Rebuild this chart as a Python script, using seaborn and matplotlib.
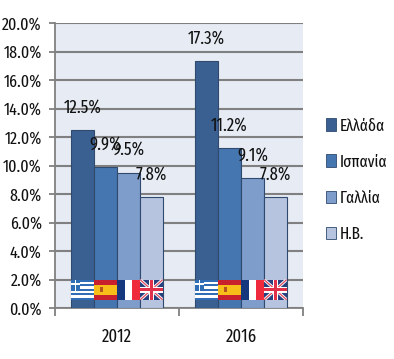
import pandas as pd
import matplotlib
matplotlib.use("Agg")
import matplotlib.pyplot as plt
import matplotlib.patches as mpatches
from matplotlib.transforms import Affine2D
import seaborn as sns

years = ["2012", "2016"]
countries = ["Ελλάδα", "Ισπανία", "Γαλλία", "Η.Β."]
greece = [12.5, 17.3]
spain = [9.9, 11.2]
france = [9.5, 9.1]
uk = [7.8, 7.8]
colors = ["#3A6091", "#4676B0", "#7F9DCB", "#B7C4DF"]
y_ticks = [0, 2, 4, 6, 8, 10, 12, 14, 16, 18, 20]

df = pd.DataFrame({
    "Year": years * 4,
    "Country": [c for c in countries for _ in years],
    "Value": greece + spain + france + uk,
})

sns.set_theme(style="white")
plt.rcParams["font.family"] = ["Fira Sans Extra Condensed", "Liberation Sans", "DejaVu Sans"]
plt.rcParams["axes.unicode_minus"] = False

fig = plt.figure(figsize=(3.94, 3.59), dpi=100)
ax = fig.add_axes([55 / 394, 1 - 308 / 359, 248 / 394, 285 / 359])
ax.set_facecolor("#E6EBF4")

sns.barplot(data=df, x="Year", y="Value", hue="Country", palette=colors,
            width=0.74, gap=0, saturation=1, edgecolor="#2F4A6E", linewidth=0.8,
            ax=ax, zorder=3)
ax.set_xlim(-0.5, 1.5)
ax.set_ylim(0, 20)


def draw_flag(name, x, w, y0=0.56, h=1.44):
    # unit square -> data coords
    tr = Affine2D().scale(w, h).translate(x, y0) + ax.transData

    def rect(a, b, c, d, col):
        ax.add_patch(mpatches.Rectangle((a, b), c, d, color=col, lw=0, transform=tr, zorder=5))

    def poly(pts, col):
        ax.add_patch(mpatches.Polygon(pts, closed=True, color=col, lw=0, transform=tr, zorder=5))

    if name == "gr":
        blue = "#2F6DB5"
        for i in range(9):
            rect(0, i / 9, 1, 1 / 9, blue if i % 2 == 0 else "white")
        rect(0, 4 / 9, 0.38, 5 / 9, blue)
        rect(0.15, 4 / 9, 0.08, 5 / 9, "white")
        rect(0, 6.5 / 9, 0.38, 0.9 / 9, "white")
    elif name == "es":
        rect(0, 0, 1, 1, "#C8202C")
        rect(0, 0.25, 1, 0.5, "#F7BE1A")
        rect(0.27, 0.38, 0.14, 0.26, "#B5541E")
    elif name == "fr":
        rect(0, 0, 1 / 3, 1, "#14377D")
        rect(1 / 3, 0, 1 / 3, 1, "white")
        rect(2 / 3, 0, 1 / 3, 1, "#EE2A3C")
    else:
        rect(0, 0, 1, 1, "#27407F")
        d = 0.1
        for pts in ([(0, d), (0, 0), (d, 0), (1, 1 - d), (1, 1), (1 - d, 1)],
                    [(0, 1 - d), (0, 1), (d, 1), (1, d), (1, 0), (1 - d, 0)]):
            poly(pts, "white")
        d = 0.04
        for pts in ([(0, d), (0, 0), (d, 0), (1, 1 - d), (1, 1), (1 - d, 1)],
                    [(0, 1 - d), (0, 1), (d, 1), (1, d), (1, 0), (1 - d, 0)]):
            poly(pts, "#E0475A")
        rect(0.38, 0, 0.24, 1, "white")
        rect(0, 0.36, 1, 0.28, "white")
        rect(0.44, 0, 0.12, 1, "#E0304A")
        rect(0, 0.43, 1, 0.14, "#E0304A")


flags = ["gr", "es", "fr", "uk"]
for container, flag in zip(ax.containers, flags):
    ax.bar_label(container, labels=[f"{v:.1f}%" for v in container.datavalues],
                 padding=10, fontsize=13, color="#111111", zorder=6)
    for bar in container:
        draw_flag(flag, bar.get_x(), bar.get_width())

ax.set_yticks(y_ticks)
ax.set_yticklabels([f"{v:.1f}%" for v in y_ticks], fontsize=12.5, color="#111111")
ax.set_xticks([-0.5, 0.5, 1.5], labels=[])
ax.set_xticks([0, 1], labels=years, minor=True, fontsize=13, color="#111111")
ax.tick_params(axis="x", which="major", length=6, width=1.3, color="#808080", bottom=True)
ax.tick_params(axis="x", which="minor", length=0, pad=14.5)
ax.tick_params(axis="y", length=4, width=1.3, color="#808080", left=True, pad=5.5)
ax.grid(axis="y", color="#808080", linewidth=1.5, zorder=1)
ax.set_axisbelow(True)
ax.set_xlabel("")
ax.set_ylabel("")
for side in ["top", "right"]:
    ax.spines[side].set_visible(False)
for side in ["left", "bottom"]:
    ax.spines[side].set_color("#808080")
    ax.spines[side].set_linewidth(1.3)

handles = [mpatches.Patch(facecolor=c, edgecolor="#2F4A6E", linewidth=0.6) for c in colors]
ax.legend(handles, countries, loc="center left", bbox_to_anchor=(326 / 394, 1 - 180 / 359),
          bbox_transform=fig.transFigure, frameon=False, fontsize=12,
          handlelength=0.6, handleheight=0.8, handletextpad=0.2, labelspacing=1.2,
          borderpad=0, borderaxespad=0, labelcolor="#111111")

fig.savefig("out.png", dpi=100)
